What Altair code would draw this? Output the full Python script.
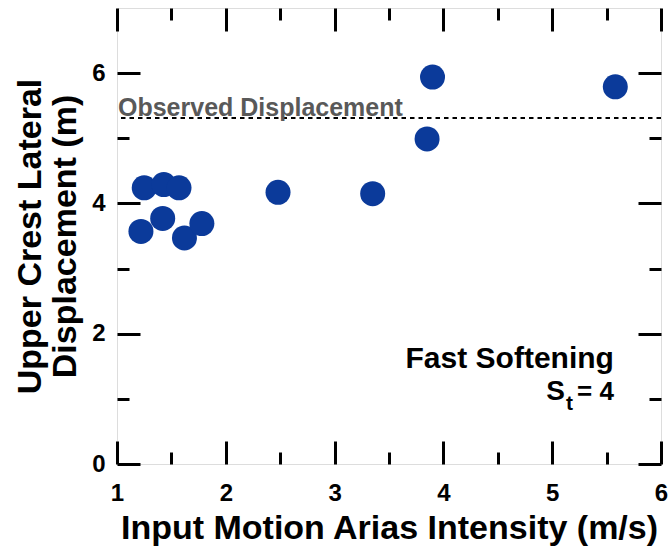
import altair as alt
import pandas as pd

# ---- data ----
arias = [1.25, 1.43, 1.57, 2.48, 3.35, 1.22, 1.42, 1.62, 1.78, 3.85, 3.90, 5.58]
disp = [4.24, 4.29, 4.24, 4.17, 4.15, 3.57, 3.77, 3.47, 3.69, 4.99, 5.94, 5.79]

observed_disp = 5.31
observed_label = "Observed Displacement"

x_major = [1, 2, 3, 4, 5, 6]
x_minor = [1.5, 2.5, 3.5, 4.5, 5.5]
y_major = [0, 2, 4, 6]
y_minor = [1, 3, 5]

x_title = "Input Motion Arias Intensity (m/s)"
y_title = ["Upper Crest Lateral", "Displacement (m)"]

note_line1 = "Fast Softening"
note_sym = "S"
note_sub = "t"
note_val = "= 4"
note_x = 5.567
note_y1 = 1.47
note_y2 = 0.98

FONT = "Liberation Sans"
DOT = "#0b3a9a"

xs = alt.Scale(domain=[1, 6], nice=False, zero=False)
ys = alt.Scale(domain=[0, 7], nice=False, zero=False)

pts = pd.DataFrame({"x": arias, "y": disp})
note_df = pd.DataFrame({"x": [note_x], "y1": [note_y1], "y2": [note_y2]})
obs_df = pd.DataFrame({"x": [1.0], "y": [observed_disp]})


def tick_axis(orient, values, size, labels=False, **kw):
    return alt.Axis(
        orient=orient, values=values, tickSize=size, offset=-size,
        tickWidth=3, tickColor="black", domain=False, grid=False,
        labels=labels, **kw,
    )


points = alt.Chart(pts).mark_circle(size=625, opacity=1, color=DOT).encode(
    x=alt.X("x:Q", scale=xs, title=x_title, axis=tick_axis(
        "bottom", x_major, 23, labels=True, labelFontSize=24, labelFontWeight="bold",
        labelColor="black", labelPadding=17, labelFont=FONT, labelFlush=False,
        titleFontSize=34, titleFontWeight="bold", titleColor="black", titleFont=FONT,
        titlePadding=6)),
    y=alt.Y("y:Q", scale=ys, title=y_title, axis=tick_axis(
        "left", y_major, 23, labels=True, labelFontSize=24, labelFontWeight="bold",
        labelColor="black", labelPadding=12, labelFont=FONT, labelFlush=False,
        titleFontSize=34, titleFontWeight="bold", titleColor="black", titleFont=FONT,
        titlePadding=9, titleLineHeight=35)),
)

rule = alt.Chart(obs_df).mark_rule(color="black", strokeWidth=2, strokeDash=[4.5, 4]).encode(
    y=alt.Y("y:Q", scale=ys, axis=None)
)

obs_text = alt.Chart(obs_df).mark_text(
    align="left", baseline="alphabetic", dx=1, dy=-2, font=FONT,
    fontSize=25, fontWeight="bold", color="#595959",
).encode(
    x=alt.X("x:Q", scale=xs, axis=None),
    y=alt.Y("y:Q", scale=ys, axis=None),
    text=alt.value(observed_label),
)

t1 = alt.Chart(note_df).mark_text(
    align="right", baseline="alphabetic", font=FONT, fontSize=30, fontWeight="bold", color="black",
).encode(
    x=alt.X("x:Q", scale=xs, title=None, axis=tick_axis("bottom", x_minor, 12)),
    y=alt.Y("y1:Q", scale=ys, title=None, axis=tick_axis("left", y_minor, 12)),
    text=alt.value(note_line1),
)

t_s = alt.Chart(note_df).mark_text(
    align="right", baseline="alphabetic", dx=-49, font=FONT, fontSize=28, fontWeight="bold", color="black",
).encode(
    x=alt.X("x:Q", scale=xs, title=None, axis=tick_axis("top", x_major, 23)),
    y=alt.Y("y2:Q", scale=ys, title=None, axis=tick_axis("right", y_major, 23)),
    text=alt.value(note_sym),
)

t_t = alt.Chart(note_df).mark_text(
    align="right", baseline="alphabetic", dx=-41, dy=10, font=FONT, fontSize=21, fontWeight="bold", color="black",
).encode(
    x=alt.X("x:Q", scale=xs, title=None, axis=tick_axis("top", x_minor, 12)),
    y=alt.Y("y2:Q", scale=ys, title=None, axis=tick_axis("right", y_minor, 12)),
    text=alt.value(note_sub),
)

t_v = alt.Chart(note_df).mark_text(
    align="right", baseline="alphabetic", font=FONT, fontSize=26, fontWeight="bold", color="black",
).encode(
    x=alt.X("x:Q", scale=xs, axis=None),
    y=alt.Y("y2:Q", scale=ys, axis=None),
    text=alt.value(note_val),
)

chart = alt.layer(rule, obs_text, points, t1, t_s, t_t, t_v).resolve_axis(
    x="independent", y="independent"
).properties(
    width=544, height=456,
    autosize=alt.AutoSizeParams(type="none"),
    padding={"left": 117, "top": 8, "right": 10, "bottom": 82},
).configure_view(
    stroke="black", strokeWidth=3
).configure(background="white")

chart.save("out.html", embed_options={"renderer": "svg", "actions": False})
